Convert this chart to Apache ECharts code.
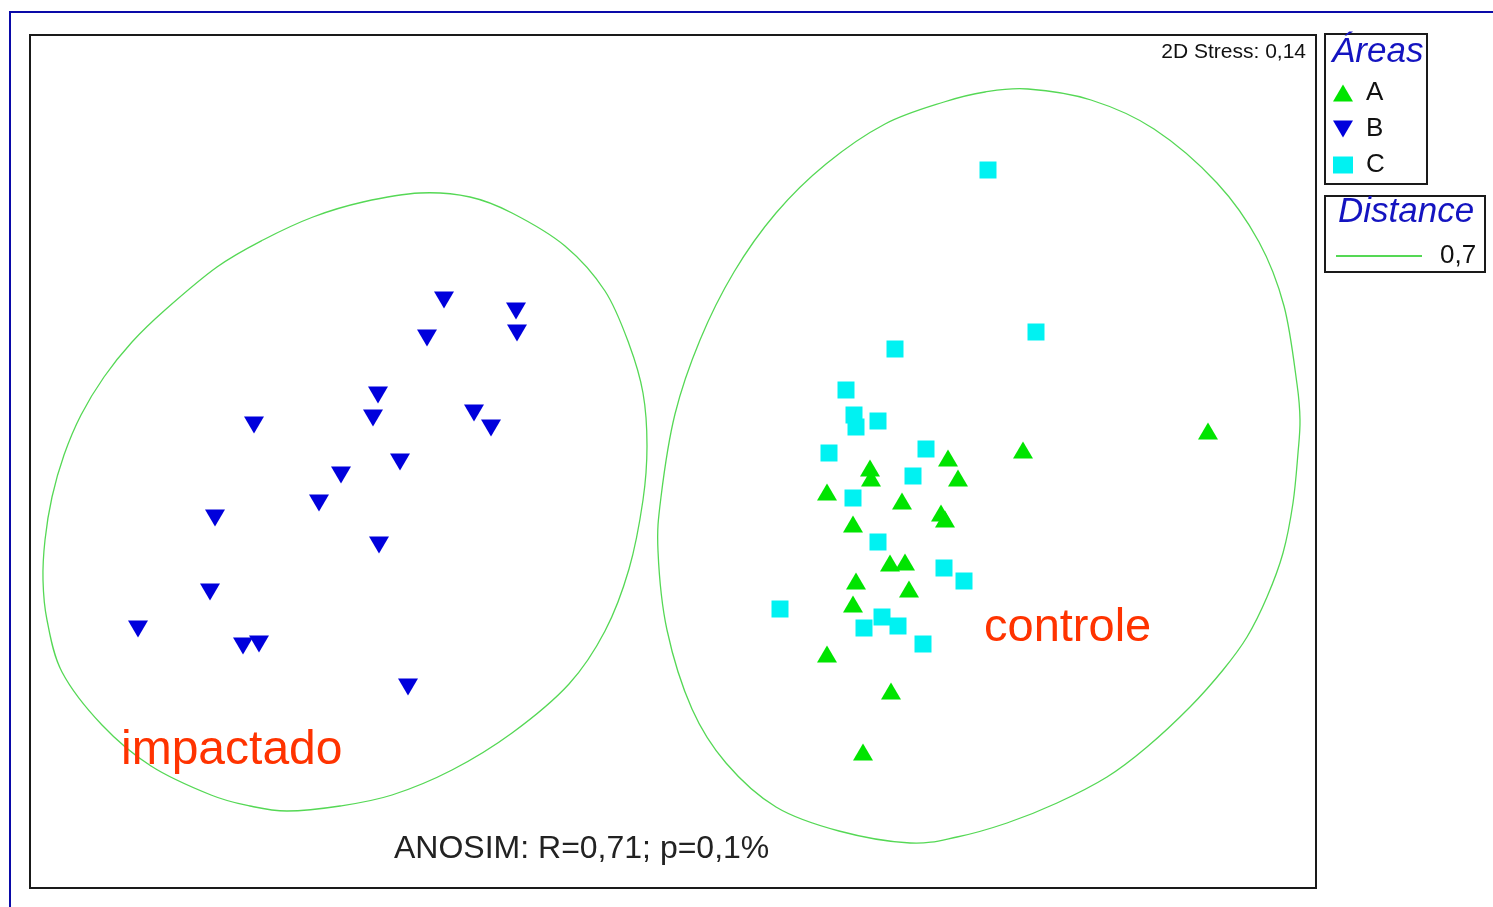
<!DOCTYPE html>
<html>
<head>
<meta charset="utf-8">
<title>MDS – Áreas A, B, C</title>
<script src="https://cdn.jsdelivr.net/npm/echarts@6/dist/echarts.min.js"></script>
<style>
  html, body { margin: 0; padding: 0; background: #ffffff; }
  #chart { width: 1493px; height: 907px; }
</style>
</head>
<body>
<div id="chart"></div>
<script>
// MDS ordination coordinates (dimension 1, dimension 2) for each sample
const areaA = [
  [9.93, 4.38], [9.18, 4.30], [9.28, 4.10], [8.40, 4.20], [8.41, 4.10],
  [7.97, 3.96], [8.72, 3.87], [9.11, 3.75], [9.15, 3.69], [8.23, 3.64],
  [8.60, 3.25], [8.75, 3.26], [8.26, 3.07], [8.79, 2.99], [8.23, 2.84],
  [7.97, 2.34], [8.61, 1.97], [8.33, 1.36], [11.78, 4.57]
];
const areaB = [
  [4.14, 5.88], [4.86, 5.77], [4.87, 5.55], [3.97, 5.50], [3.48, 4.93],
  [3.43, 4.70], [2.24, 4.63], [4.44, 4.75], [4.61, 4.60], [3.70, 4.26],
  [3.11, 4.13], [2.89, 3.85], [1.85, 3.70], [3.49, 3.43], [1.80, 2.96],
  [1.08, 2.59], [2.13, 2.42], [2.29, 2.44], [3.78, 2.01]
];
const areaC = [
  [9.58, 7.18], [10.06, 5.56], [8.65, 5.39], [8.16, 4.98], [8.24, 4.73],
  [8.26, 4.61], [8.48, 4.67], [7.99, 4.35], [8.96, 4.39], [8.83, 4.12],
  [8.23, 3.90], [8.48, 3.46], [9.14, 3.20], [9.34, 3.07], [7.50, 2.79],
  [8.34, 2.60], [8.52, 2.71], [8.68, 2.62], [8.93, 2.44]
];

// Cluster contours at distance 0,7 (closed outlines, clockwise)
const contourImpactado = [
  [3.90, 6.95], [4.40, 6.91], [4.82, 6.75], [5.35, 6.42], [5.75, 5.97],
  [5.99, 5.44], [6.13, 4.95], [6.17, 4.42], [6.13, 3.88], [5.99, 3.19],
  [5.75, 2.57], [5.39, 2.04], [4.82, 1.55], [4.22, 1.18], [3.62, 0.93],
  [3.10, 0.82], [2.57, 0.77], [2.20, 0.82], [1.81, 0.93], [1.21, 1.22],
  [0.72, 1.63], [0.32, 2.16], [0.17, 2.68], [0.13, 3.08], [0.15, 3.48],
  [0.22, 3.91], [0.34, 4.33], [0.51, 4.73], [0.74, 5.11], [1.02, 5.46],
  [1.35, 5.78], [1.87, 6.21], [2.33, 6.48], [2.83, 6.71], [3.33, 6.86]
];
const contourControle = [
  [9.98, 7.99], [10.61, 7.88], [11.24, 7.59], [11.87, 7.05], [12.29, 6.46],
  [12.54, 5.82], [12.67, 5.04], [12.70, 4.68], [12.68, 4.35], [12.63, 3.85],
  [12.53, 3.35], [12.37, 2.91], [12.17, 2.51], [11.93, 2.18], [11.60, 1.81],
  [11.17, 1.41], [10.77, 1.11], [10.27, 0.85], [9.77, 0.65], [9.27, 0.51],
  [8.80, 0.45], [8.09, 0.57], [7.46, 0.81], [6.96, 1.25], [6.62, 1.79],
  [6.37, 2.58], [6.28, 3.37], [6.31, 3.91], [6.45, 4.74], [6.70, 5.48],
  [7.04, 6.16], [7.46, 6.75], [7.96, 7.24], [8.55, 7.64], [9.14, 7.86],
  [9.55, 7.96]
];

const areaNames = ['A', 'B', 'C'];
const distanceLabel = '0,7';
const stressText = '2D Stress: 0,14';
const anosimText = 'ANOSIM: R=0,71; p=0,1%';
const groupLabels = ['impactado', 'controle'];

const FONT = '"Liberation Sans", Arial, sans-serif';
const downTriangle = 'path://M0,0L20,0L10,17Z';
const contourColor = '#55d855';

// Closed Catmull-Rom outline through the contour points (pixel positions from the axes)
function closedSplinePath(pts) {
  const n = pts.length;
  let d = 'M' + pts[0][0].toFixed(2) + ',' + pts[0][1].toFixed(2);
  for (let i = 0; i < n; i++) {
    const p0 = pts[(i - 1 + n) % n], p1 = pts[i], p2 = pts[(i + 1) % n], p3 = pts[(i + 2) % n];
    const c1x = p1[0] + (p2[0] - p0[0]) / 6, c1y = p1[1] + (p2[1] - p0[1]) / 6;
    const c2x = p2[0] - (p3[0] - p1[0]) / 6, c2y = p2[1] - (p3[1] - p1[1]) / 6;
    d += 'C' + c1x.toFixed(2) + ',' + c1y.toFixed(2) + ' ' + c2x.toFixed(2) + ',' + c2y.toFixed(2) +
         ' ' + p2[0].toFixed(2) + ',' + p2[1].toFixed(2);
  }
  return d + 'Z';
}

function contourSeries(points) {
  return {
    name: distanceLabel,
    type: 'custom',
    data: points,
    silent: true,
    z: 1,
    itemStyle: { color: contourColor },
    renderItem: function (params, api) {
      if (params.dataIndex !== 0) return null;
      const pts = points.map(function (p) { return api.coord(p); });
      return {
        type: 'path',
        shape: { pathData: closedSplinePath(pts), layout: 'center' },
        style: { fill: 'none', stroke: contourColor, lineWidth: 1.3 }
      };
    }
  };
}

const chart = echarts.init(document.getElementById('chart'), null, { renderer: 'canvas' });

chart.setOption({
  animation: false,
  backgroundColor: '#ffffff',
  grid: {
    left: 30, top: 35, width: 1286, height: 853,
    show: true, borderColor: '#1a1a1a', borderWidth: 2, backgroundColor: '#ffffff'
  },
  xAxis: { type: 'value', min: 0, max: 12.86, show: false },
  yAxis: { type: 'value', min: 0, max: 8.53, show: false },
  legend: [
    {
      data: [
        { name: areaNames[0], icon: 'triangle' },
        { name: areaNames[1], icon: downTriangle },
        { name: areaNames[2], icon: 'rect' }
      ],
      orient: 'vertical', left: 1333, top: 80, padding: 0,
      itemWidth: 20, itemHeight: 17, itemGap: 10,
      selectedMode: false,
      textStyle: { fontFamily: FONT, fontSize: 26, lineHeight: 26, color: '#111', padding: [0, 0, 0, 8] }
    },
    {
      data: [{ name: distanceLabel, icon: 'rect' }],
      left: 1336, top: 243, padding: 0,
      itemWidth: 86, itemHeight: 2,
      selectedMode: false,
      textStyle: { fontFamily: FONT, fontSize: 26, lineHeight: 26, color: '#111', padding: [0, 0, 0, 13] }
    }
  ],
  series: [
    contourSeries(contourImpactado),
    contourSeries(contourControle),
    {
      name: areaNames[1], type: 'scatter', data: areaB, z: 3,
      symbol: downTriangle, symbolSize: [20, 17],
      itemStyle: { color: '#0000dc', opacity: 1 }
    },
    {
      name: areaNames[2], type: 'scatter', data: areaC, z: 3,
      symbol: 'rect', symbolSize: [17, 17],
      itemStyle: { color: '#00f2f2', opacity: 1 }
    },
    {
      name: areaNames[0], type: 'scatter', data: areaA, z: 4,
      symbol: 'triangle', symbolSize: [20, 17],
      itemStyle: { color: '#00e400', opacity: 1 }
    }
  ],
  graphic: [
    // outer page frame
    { type: 'rect', shape: { x: 10, y: 12, width: 1700, height: 1200 },
      style: { fill: 'none', stroke: '#0a0aa8', lineWidth: 2 }, z: 0, silent: true },
    // legend boxes
    { type: 'rect', shape: { x: 1325, y: 34, width: 102, height: 150 },
      style: { fill: 'none', stroke: '#1a1a1a', lineWidth: 2 }, z: 10, silent: true },
    { type: 'rect', shape: { x: 1325, y: 196, width: 160, height: 76 },
      style: { fill: 'none', stroke: '#1a1a1a', lineWidth: 2 }, z: 10, silent: true },
    { type: 'text', left: 1332, top: 35, z: 10, silent: true,
      style: { text: 'Áreas', font: 'italic 35px ' + FONT, fill: '#1414c0' } },
    { type: 'text', left: 1338, top: 195, z: 10, silent: true,
      style: { text: 'Distance', font: 'italic 35px ' + FONT, fill: '#1414c0' } },
    // annotations
    { type: 'text', right: 1493 - 1306, top: 42, z: 10, silent: true,
      style: { text: stressText, font: '21px ' + FONT, fill: '#111' } },
    { type: 'text', left: 394, top: 833, z: 10, silent: true,
      style: { text: anosimText, font: '32px ' + FONT, fill: '#222' } },
    { type: 'text', left: 121, top: 727, z: 10, silent: true,
      style: { text: groupLabels[0], font: '48px ' + FONT, fill: '#ff3300' } },
    { type: 'text', left: 984, top: 605, z: 10, silent: true,
      style: { text: groupLabels[1], font: '47px ' + FONT, fill: '#ff3300' } }
  ]
});
</script>
</body>
</html>
